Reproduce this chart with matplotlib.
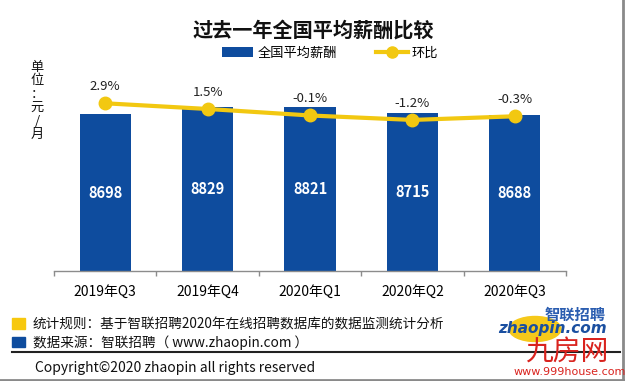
#!/usr/bin/env python3
"""
Recreates the zhaopin chart: 过去一年全国平均薪酬比较
(quarterly average salary bars + quarter-on-quarter change line).
"""

import matplotlib
matplotlib.use("Agg")
import matplotlib.pyplot as plt
from matplotlib.patches import Patch, Rectangle, Ellipse
from matplotlib.lines import Line2D

plt.rcParams['font.family'] = ['Noto Sans CJK SC', 'DejaVu Sans']

# ---- data ----
quarters = ["2019年Q3", "2019年Q4", "2020年Q1", "2020年Q2", "2020年Q3"]
salary = [8698, 8829, 8821, 8715, 8688]          # 元/月
qoq_pct = [2.9, 1.5, -0.1, -1.2, -0.3]           # 环比 %

BLUE = '#0E4C9E'
YELLOW = '#F2C811'

W, H = 625, 381


def fx(x):
    return x / W


def fy(y):
    return 1 - y / H


fig = plt.figure(figsize=(W / 100, H / 100), dpi=100)
fig.patch.set_facecolor('white')

# axes box in pixels: x 54..566, y 60..271
ax = fig.add_axes([fx(54), fy(271), fx(566) - fx(54), fy(60) - fy(271)])
x = list(range(len(quarters)))
bars = ax.bar(x, salary, width=0.5, color=BLUE, zorder=2)
ax.bar_label(bars, labels=[str(v) for v in salary], label_type='center',
             color='white', fontsize=10.5, fontweight='bold')
ax.set_xlim(-0.5, len(quarters) - 0.5)
ax.set_ylim(6000, 9630)
ax.set_yticks([])
for s in ['top', 'right', 'left']:
    ax.spines[s].set_visible(False)
ax.spines['bottom'].set_color('#8c8c8c')
ax.spines['bottom'].set_linewidth(1)
ax.set_xticks(x)
ax.set_xticklabels(quarters, fontsize=10)
ax.tick_params(axis='x', length=0, pad=10)
ax.set_xticks([i - 0.5 for i in range(len(quarters) + 1)], minor=True)
ax.tick_params(axis='x', which='minor', length=3.5, color='#8c8c8c', width=1)

# 环比 line on a secondary axis
ax2 = ax.twinx()
ax2.plot(x, qoq_pct, color=YELLOW, lw=3, marker='o', ms=9, zorder=3)
ax2.set_ylim(-38.4, 13.56)
ax2.set_yticks([])
ax2.axis('off')
for xi, v in zip(x, qoq_pct):
    ax2.annotate(f"{v}%", (xi, v), xytext=(0, 12), textcoords='offset points',
                 ha='center', va='center', fontsize=9.5, color='#222222')

# title + legend
fig.text(fx(313), fy(30), "过去一年全国平均薪酬比较", ha='center', va='center',
         fontsize=14.5, fontweight='bold', color='#111111')
handles = [Patch(facecolor=BLUE, label="全国平均薪酬"),
           Line2D([], [], color=YELLOW, lw=3, marker='o', ms=8, label="环比")]
fig.legend(handles=handles, ncol=2, loc='center', frameon=False,
           bbox_to_anchor=(fx(330), fy(53)), fontsize=9.5,
           handlelength=2.4, handletextpad=0.3, columnspacing=3.0)

# unit label, stacked vertically
fig.text(fx(37), fy(101), "单\n位\n：\n元\n/\n月", ha='center', va='center',
         fontsize=9.5, linespacing=1.05, color='#111111')

# footer notes
fig.add_artist(Rectangle((fx(12), fy(329)), fx(13), fy(318) - fy(329),
                         transform=fig.transFigure, color='#F7C80E'))
fig.add_artist(Rectangle((fx(12), fy(347)), fx(13), fy(337) - fy(347),
                         transform=fig.transFigure, color=BLUE))
fig.text(fx(33), fy(324), "统计规则：基于智联招聘2020年在线招聘数据库的数据监测统计分析",
         ha='left', va='center', fontsize=9.8, color='#111111')
fig.text(fx(33), fy(343), "数据来源：智联招聘（ www.zhaopin.com ）",
         ha='left', va='center', fontsize=9.8, color='#111111')
fig.add_artist(Line2D([fx(12), fx(620)], [fy(352), fy(352)],
                      transform=fig.transFigure, color='#222222', lw=1.5))
fig.text(fx(35), fy(368), "Copyright©2020 zhaopin all rights reserved",
         ha='left', va='center', fontsize=10, color='#111111')

# logo / watermark
fig.add_artist(Ellipse((fx(535), fy(329)), fx(52), fy(317) - fy(342),
                       transform=fig.transFigure, color='#F6C91A', zorder=1))
fig.text(fx(575), fy(315), "智联招聘", ha='center', va='center', fontsize=11,
         fontweight='bold', style='italic', color='#2B5DB0', zorder=3)
fig.text(fx(552), fy(329), "zhaopin.com", ha='center', va='center', fontsize=11,
         fontweight='bold', style='italic', color='#1A4FA0', family='DejaVu Sans',
         zorder=3)
fig.text(fx(567), fy(353), "九房网", ha='center', va='center', fontsize=20,
         color='#D9231E', zorder=3)
fig.text(fx(570), fy(372), "www.999house.com", ha='center', va='center',
         fontsize=8, color='#D9231E', family='DejaVu Sans', zorder=3)

# frame shadow at right and bottom
fig.add_artist(Line2D([fx(623), fx(623)], [0, 1], transform=fig.transFigure,
                      color='#8a8a8a', lw=2))
fig.add_artist(Line2D([0, 1], [fy(379.5), fy(379.5)], transform=fig.transFigure,
                      color='#8a8a8a', lw=2))

fig.savefig("out.png", dpi=100)
